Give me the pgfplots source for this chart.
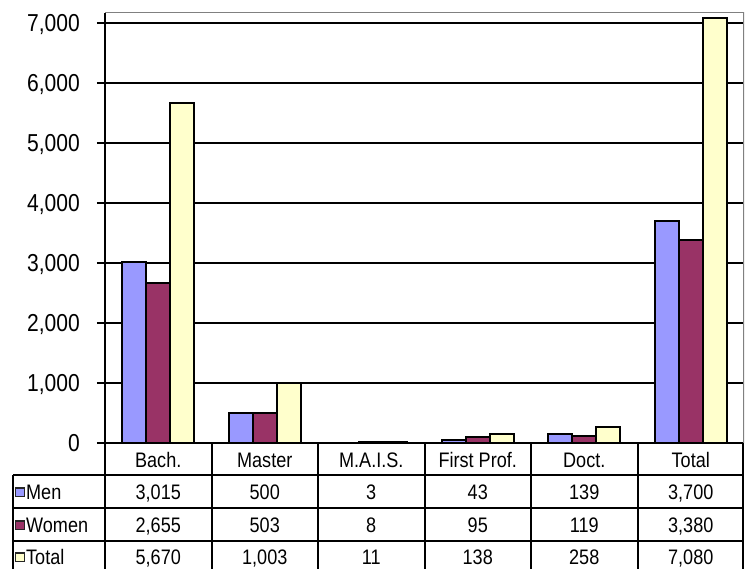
\documentclass[border=0pt]{standalone}
\usepackage{pgfplots}
\pgfplotsset{compat=1.18}
\usepackage{fontspec}
\setmainfont{Liberation Sans}[FakeStretch=0.86]

\definecolor{menc}{HTML}{9999FF}
\definecolor{womenc}{HTML}{993366}
\definecolor{totc}{HTML}{FFFFCC}
\definecolor{bordergray}{HTML}{808080}

\newcommand\tf{\fontsize{21bp}{24bp}\selectfont}

\pgfplotstableread{
cat men women total
0 3015 2655 5670
1 500 503 1003
2 3 8 11
3 43 95 138
4 139 119 258
5 3700 3380 7080
}\degrees

\begin{document}
\begin{tikzpicture}[x=1bp,y=1bp]
\path[use as bounding box] (0,0) rectangle (749,569);
\begin{axis}[
  at={(105bp,126.3bp)}, anchor=south west,
  scale only axis, width=639bp, height=430bp,
  xmin=-0.5, xmax=5.5, ymin=0, ymax=7167,
  ybar, bar width=0.2254,
  axis x line*=bottom, axis y line*=left,
  axis line style={black, line width=2bp},
  xtick=\empty,
  ytick={0,1000,...,7000},
  ymajorgrids, grid style={black, line width=1.8bp},
  tick align=outside, major tick length=8bp,
  y tick style={black, line width=1.8bp},
  yticklabel style={font=\fontsize{24.5bp}{28bp}\selectfont, anchor=base east,
    yshift=-8.8bp, inner sep=0pt, xshift=-17bp},
  /pgf/number format/1000 sep={,},
  /pgf/number format/assume math mode=true,
  every axis plot/.append style={draw=black, line width=2bp},
]
\addplot[fill=menc, bar shift=-0.2254] table[x=cat, y=men] {\degrees};
\addplot[fill=womenc, bar shift=0] table[x=cat, y=women] {\degrees};
\addplot[fill=totc, bar shift=0.2254] table[x=cat, y=total] {\degrees};
\draw[bordergray, line width=1.6bp] (rel axis cs:0,1) -- (rel axis cs:1,1) -- (rel axis cs:1,0);
\end{axis}

% data table
\begin{scope}[line width=2bp, black]
  \foreach \yy in {94,60.7,28.3} \draw (13,\yy) -- (742.5,\yy);
  \draw (13,94) -- (13,0);
  \foreach \xx in {105,211.5,318,424.5,531,637.5} \draw (\xx,126.3) -- (\xx,0);
  \draw (742.5,126.3) -- (742.5,0);
\end{scope}

\begin{scope}[every node/.style={inner sep=0pt, anchor=base, font=\tf}]
  \node at (158.25,101.3) {Bach.};
  \node at (264.75,101.3) {Master};
  \node at (371.25,101.3) {M.A.I.S.};
  \node at (477.75,101.3) {First Prof.};
  \node at (584.25,101.3) {Doct.};
  \node at (690.75,101.3) {Total};

  \node at (158.25,69) {3,015};
  \node at (264.75,69) {500};
  \node at (371.25,69) {3};
  \node at (477.75,69) {43};
  \node at (584.25,69) {139};
  \node at (690.75,69) {3,700};

  \node at (158.25,36) {2,655};
  \node at (264.75,36) {503};
  \node at (371.25,36) {8};
  \node at (477.75,36) {95};
  \node at (584.25,36) {119};
  \node at (690.75,36) {3,380};

  \node at (158.25,4) {5,670};
  \node at (264.75,4) {1,003};
  \node at (371.25,4) {11};
  \node at (477.75,4) {138};
  \node at (584.25,4) {258};
  \node at (690.75,4) {7,080};

  \node[anchor=base west] at (26,69) {Men};
  \node[anchor=base west] at (26,36) {Women};
  \node[anchor=base west] at (26,4) {Total};
\end{scope}

\begin{scope}[line width=1.3bp, draw=black!85]
  \filldraw[fill=menc] (15.5,72.5) rectangle (24.5,81);
  \filldraw[fill=womenc] (15.5,39.5) rectangle (24.5,48);
  \filldraw[fill=totc] (15.5,7.5) rectangle (24.5,16);
\end{scope}
\end{tikzpicture}
\end{document}
